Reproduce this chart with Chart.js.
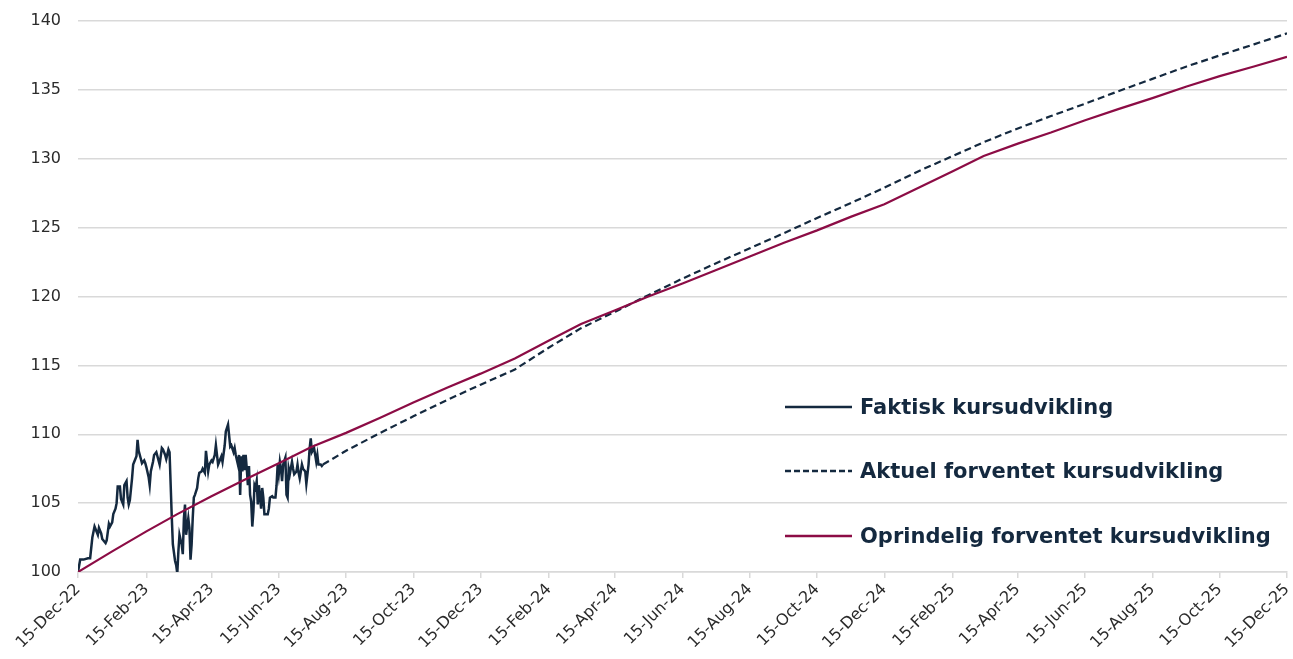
<!DOCTYPE html>
<html>
<head>
<meta charset="utf-8">
<script src="https://cdn.jsdelivr.net/npm/chart.js@4"></script>
<style>
  body { margin: 0; background: #fff; }
  #wrap { position: relative; width: 1293px; height: 659px; }
  #legend { position: absolute; left: 785px; top: 0; font-family: "DejaVu Sans", sans-serif; font-weight: 700; font-size: 21px; color: #14293f; }
  .row { position: absolute; left: 0; display: flex; align-items: center; white-space: nowrap; height: 28px; }
  .row svg { margin-right: 8px; }
</style>
</head>
<body>
<div id="wrap">
  <canvas id="chart" width="1293" height="659"></canvas>
  <div id="legend"></div>
</div>
<script>
const NAVY = '#14293f';
const MAROON = '#8c0c45';

const tickLabels = ['15-Dec-22', '15-Feb-23', '15-Apr-23', '15-Jun-23', '15-Aug-23', '15-Oct-23',
  '15-Dec-23', '15-Feb-24', '15-Apr-24', '15-Jun-24', '15-Aug-24', '15-Oct-24', '15-Dec-24',
  '15-Feb-25', '15-Apr-25', '15-Jun-25', '15-Aug-25', '15-Oct-25', '15-Dec-25'];

// faktisk kurs, dage efter 15-Dec-22
const actualDays = [0, 2, 5, 9, 11, 13, 15, 16, 18, 19, 21, 22, 25, 26, 28, 29, 31, 32, 34, 35,
  36, 38, 39, 41, 42, 44, 45, 46, 47, 49, 50, 51, 53, 54, 55, 57, 58, 60, 61, 62,
  64, 65, 66, 68, 69, 71, 72, 74, 76, 77, 79, 80, 82, 83, 85, 86, 88, 89, 90, 91,
  92, 94, 95, 96, 97, 98, 100, 101, 102, 103, 104, 105, 106, 108, 109, 110, 112, 113, 115, 116,
  118, 119, 121, 122, 124, 125, 127, 128, 130, 131, 133, 134, 136, 137, 138, 139, 141, 142, 143, 145,
  146, 147, 148, 149, 150, 151, 152, 153, 154, 155, 156, 157, 158, 159, 160, 161, 162, 163, 164, 166,
  167, 168, 169, 171, 172, 173, 174, 176, 177, 179, 180, 181, 182, 183, 184, 185, 186, 188, 189, 190,
  191, 192, 194, 195, 196, 198, 199, 200, 201, 203, 204, 206, 207, 209, 210, 211, 212, 214, 215, 216,
  217, 218, 220, 221, 222];
const actualValues = [100.0, 100.9, 100.9, 101.0, 101.0, 102.5, 103.3, 103.1, 102.7, 103.2, 102.8, 102.4, 102.1, 102.3, 103.5, 103.3, 103.6, 104.2, 104.6, 105.0,
  106.2, 106.2, 105.3, 104.9, 106.3, 106.6, 105.4, 104.9, 105.2, 106.8, 107.8, 108.0, 108.4, 109.6, 108.8, 108.2, 107.9, 108.1, 107.9, 107.6,
  106.9, 106.3, 107.3, 108.0, 108.5, 108.7, 108.4, 107.8, 109.0, 108.9, 108.5, 108.2, 108.9, 108.7, 104.0, 102.0, 100.8, 100.5, 99.9, 101.5,
  102.7, 102.0, 101.3, 103.9, 104.9, 102.7, 103.9, 103.2, 100.9, 102.0, 103.9, 105.4, 105.6, 106.1, 106.8, 107.2, 107.3, 107.5, 107.2, 108.8,
  107.3, 107.8, 108.1, 108.0, 108.5, 109.2, 107.8, 108.0, 108.4, 108.0, 109.2, 110.2, 110.7, 109.9, 109.1, 109.2, 108.7, 109.0, 108.5, 107.8,
  108.5, 105.6, 108.4, 107.3, 108.5, 107.4, 108.5, 107.5, 106.3, 107.7, 105.6, 105.1, 103.3, 104.4, 106.3, 106.1, 106.6, 104.9, 106.3, 104.6,
  106.1, 105.4, 104.2, 104.2, 104.2, 104.6, 105.4, 105.5, 105.4, 105.4, 106.3, 107.8, 107.1, 108.0, 107.5, 106.6, 107.8, 108.3, 105.6, 105.4,
  107.5, 107.1, 108.0, 107.5, 107.1, 107.3, 107.8, 107.2, 106.8, 107.8, 107.5, 107.3, 106.4, 107.8, 109.0, 109.7, 108.7, 109.0, 108.5, 108.0,
  108.5, 107.8, 107.8, 107.7, 107.8];

const originalDates = ['15-Dec-22', '15-Jan-23', '15-Feb-23', '15-Mar-23', '15-Apr-23', '15-May-23', '15-Jun-23',
  '15-Jul-23', '15-Aug-23', '15-Sep-23', '15-Oct-23', '15-Nov-23', '15-Dec-23', '15-Jan-24', '15-Feb-24',
  '15-Mar-24', '15-Apr-24', '15-May-24', '15-Jun-24', '15-Jul-24', '15-Aug-24', '15-Sep-24', '15-Oct-24',
  '15-Nov-24', '15-Dec-24', '15-Jan-25', '15-Feb-25', '15-Mar-25', '15-Apr-25', '15-May-25', '15-Jun-25',
  '15-Jul-25', '15-Aug-25', '15-Sep-25', '15-Oct-25', '15-Nov-25', '15-Dec-25'];
const originalValues = [100.0, 101.5, 102.95, 104.2, 105.5, 106.7, 107.9,
  109.1, 110.1, 111.2, 112.3, 113.4, 114.4, 115.5, 116.8,
  118.0, 119.0, 120.0, 120.95, 121.9, 122.9, 123.9, 124.8,
  125.8, 126.7, 127.9, 129.1, 130.2, 131.1, 131.9, 132.8,
  133.6, 134.4, 135.25, 136.0, 136.7, 137.4];

const currentDates = ['25-Jul-23', '15-Aug-23', '15-Sep-23', '15-Oct-23', '15-Nov-23', '15-Dec-23', '15-Jan-24',
  '15-Feb-24', '15-Mar-24', '15-Apr-24', '15-May-24', '15-Jun-24', '15-Jul-24', '15-Aug-24', '15-Sep-24',
  '15-Oct-24', '15-Nov-24', '15-Dec-24', '15-Jan-25', '15-Feb-25', '15-Mar-25', '15-Apr-25', '15-May-25',
  '15-Jun-25', '15-Jul-25', '15-Aug-25', '15-Sep-25', '15-Oct-25', '15-Nov-25', '15-Dec-25'];
const currentValues = [107.8, 108.8, 110.1, 111.3, 112.5, 113.6, 114.7,
  116.3, 117.7, 118.9, 120.1, 121.3, 122.4, 123.5, 124.6,
  125.7, 126.8, 127.9, 129.1, 130.2, 131.2, 132.2, 133.1,
  134.0, 134.9, 135.8, 136.7, 137.5, 138.3, 139.1];

const legendItems = [
  { label: 'Faktisk kursudvikling', color: NAVY, dash: null },
  { label: 'Aktuel forventet kursudvikling', color: NAVY, dash: '6 3' },
  { label: 'Oprindelig forventet kursudvikling', color: MAROON, dash: null },
];

const MONTHS = ['Jan', 'Feb', 'Mar', 'Apr', 'May', 'Jun', 'Jul', 'Aug', 'Sep', 'Oct', 'Nov', 'Dec'];
const START = Date.UTC(2022, 11, 15);

function toDay(label) {
  const p = label.split('-');
  return Math.round((Date.UTC(2000 + +p[2], MONTHS.indexOf(p[1]), +p[0]) - START) / 86400000);
}

function dayLabel(day) {
  const d = new Date(START + day * 86400000);
  return String(d.getUTCDate()).padStart(2, '0') + '-' + MONTHS[d.getUTCMonth()] + '-' + String(d.getUTCFullYear()).slice(2);
}

const tickDays = tickLabels.map(toDay);

const axisFont = { family: '"DejaVu Sans", sans-serif', size: 16 };

new Chart(document.getElementById('chart'), {
  type: 'line',
  data: {
    datasets: [
      {
        label: 'Oprindelig forventet kursudvikling',
        data: originalDates.map((d, i) => ({ x: toDay(d), y: originalValues[i] })),
        borderColor: MAROON, borderWidth: 2.2, pointRadius: 0, tension: 0,
      },
      {
        label: 'Aktuel forventet kursudvikling',
        data: currentDates.map((d, i) => ({ x: toDay(d), y: currentValues[i] })),
        borderColor: NAVY, borderWidth: 2.2, borderDash: [7, 4], pointRadius: 0, tension: 0,
      },
      {
        label: 'Faktisk kursudvikling',
        data: actualDays.map((d, i) => ({ x: d, y: actualValues[i] })),
        borderColor: NAVY, borderWidth: 2.5, pointRadius: 0, tension: 0,
      },
    ]
  },
  options: {
    responsive: false,
    animation: false,
    devicePixelRatio: 1,
    layout: { padding: { top: 21, right: 6, left: 0, bottom: 0 } },
    plugins: { legend: { display: false }, tooltip: { enabled: false } },
    scales: {
      x: {
        type: 'linear',
        min: 0,
        max: toDay('15-Dec-25'),
        afterBuildTicks: (scale) => { scale.ticks = tickDays.map(v => ({ value: v })); },
        afterFit: (scale) => { scale.height = 87; scale.paddingRight = 0; scale.paddingLeft = 0; },
        grid: { drawOnChartArea: false, drawTicks: true, tickLength: 6, color: '#d9d9d9', lineWidth: 1.5 },
        border: { color: '#d9d9d9', width: 1.5 },
        ticks: {
          autoSkip: false, maxRotation: 45, minRotation: 45, padding: 2,
          color: '#2b2b2b', font: axisFont,
          callback: (v) => dayLabel(v),
        },
      },
      y: {
        min: 100,
        max: 140,
        afterFit: (scale) => { scale.width = 78; scale.paddingTop = 0; scale.paddingBottom = 0; },
        grid: { color: '#d9d9d9', lineWidth: 1.5, drawTicks: false },
        border: { display: false },
        ticks: { stepSize: 5, padding: 17, color: '#2b2b2b', font: axisFont },
      },
    },
  },
});

const legend = document.getElementById('legend');
const rowCenters = [407, 471, 536];
legendItems.forEach((item, i) => {
  const row = document.createElement('div');
  row.className = 'row';
  row.style.top = (rowCenters[i] - 14) + 'px';
  const dash = item.dash ? ` stroke-dasharray="${item.dash}"` : '';
  row.innerHTML = `<svg width="67" height="4"><line x1="0" y1="2" x2="67" y2="2" stroke="${item.color}" stroke-width="2.5"${dash}/></svg><span>${item.label}</span>`;
  legend.appendChild(row);
});
</script>
</body>
</html>
